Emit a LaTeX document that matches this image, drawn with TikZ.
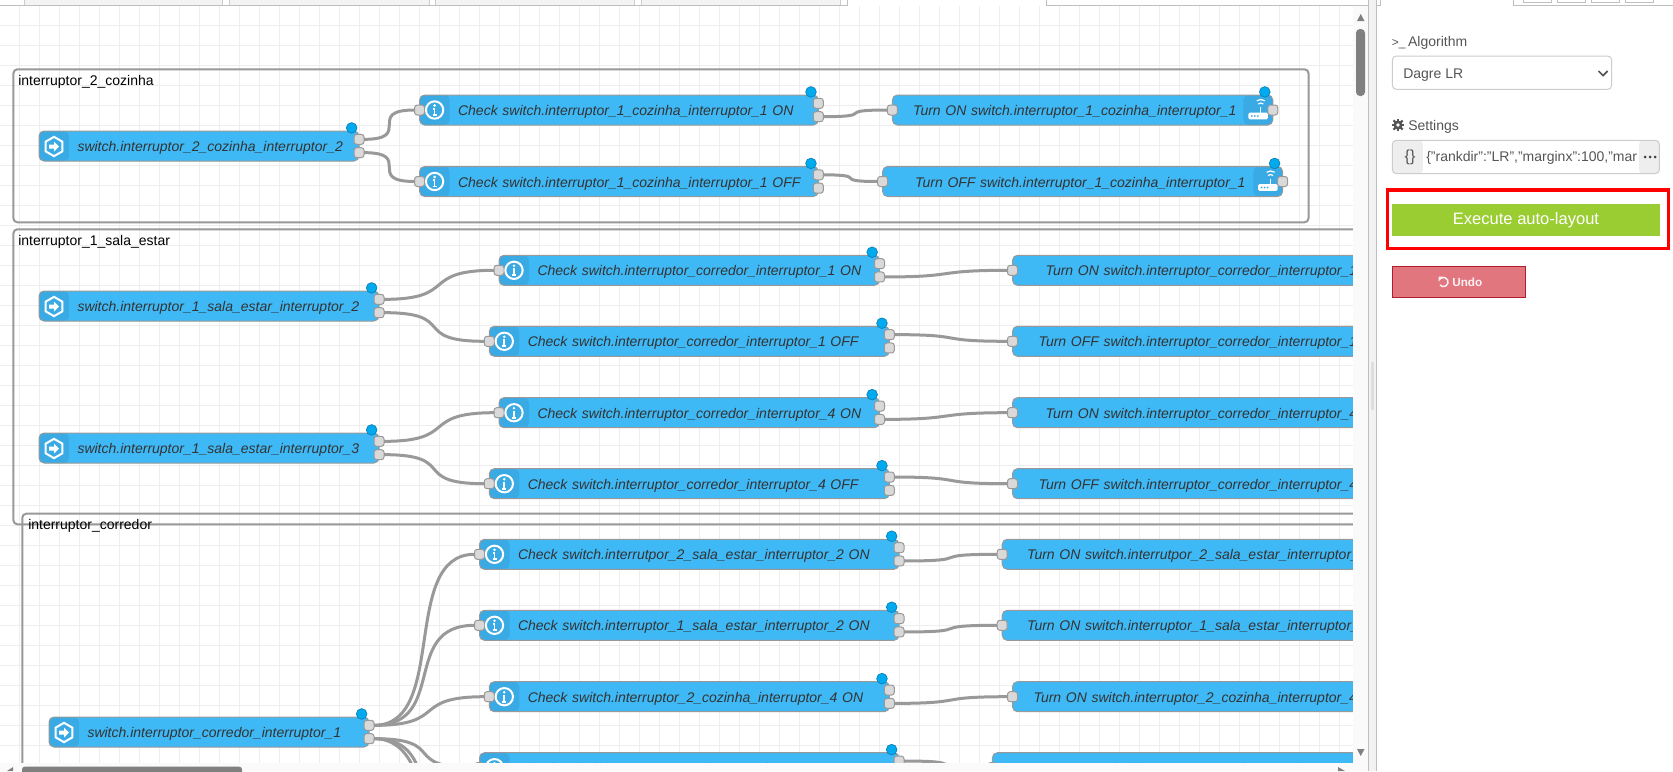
\documentclass[tikz,border=0pt]{standalone}
\usepackage{fontspec}
\setmainfont{Liberation Sans}
\usetikzlibrary{shapes.geometric}
\setlength{\unitlength}{0.75pt}
\definecolor{mynodeblue}{HTML}{3FB9F6}
\definecolor{mystripblue}{HTML}{3AAAE4}
\definecolor{mydotblue}{HTML}{00AAEE}
\definecolor{mydotline}{HTML}{0C7FB5}
\definecolor{mywire}{HTML}{999999}
\definecolor{myport}{HTML}{D9D9D9}
\definecolor{mygrid}{HTML}{EEEEEE}
\definecolor{mytext}{HTML}{333333}
\definecolor{mypanel}{HTML}{555555}
\definecolor{mygreen}{HTML}{9ACD32}
\definecolor{myundo}{HTML}{E1767F}
\definecolor{myundoline}{HTML}{B01E2E}
\tikzset{
	wide/.style={
			text width=#1\unitlength
		},
	padl/.style={
			execute at begin node={\hspace*{#1\unitlength}}
		},
	flownode/.style={
			rectangle,
			rounded corners=3.75pt,
			draw=mywire,
			line width=0.75pt,
			fill=mynodeblue,
			text=mytext,
			font=\fontsize{10.5}{12}\selectfont\itshape,
			minimum height=30\unitlength,
			text height=9pt,
			text depth=0.5pt,
			inner sep=0pt,
			outer sep=0pt,
			anchor=west,
			align=left
		},
	stripnode/.style={
			flownode,
			padl=38.5,
			path picture={
				\fill[mystripblue] (path picture bounding box.north west) rectangle ([xshift=22.5pt]path picture bounding box.south west);
			}
		},
	routernode/.style={
			flownode,
			path picture={
				\fill[mystripblue] ([xshift=-22pt]path picture bounding box.north east) rectangle (path picture bounding box.south east);
			}
		},
	portnode/.style={
			rectangle,
			rounded corners=2pt,
			draw=mywire,
			line width=0.75pt,
			fill=myport,
			minimum size=7.5pt,
			inner sep=0pt,
			outer sep=0pt
		},
	dotnode/.style={
			circle,
			draw=mydotline,
			line width=0.5pt,
			fill=mydotblue,
			minimum size=8pt,
			inner sep=0pt
		},
	hexnode/.style={
			regular polygon,
			regular polygon sides=6,
			regular polygon rotate=30,
			draw=white,
			line width=1.5pt,
			minimum size=14.5pt,
			inner sep=0pt
		},
	infonode/.style={
			circle,
			draw=white,
			line width=1.5pt,
			minimum size=13pt,
			inner sep=0pt
		},
	wire/.style={
			draw=mywire,
			line width=2.25pt
		},
	groupframe/.style={
			draw=mywire,
			line width=1.5pt,
			rounded corners=3pt
		},
	grouplabel/.style={
			anchor=west,
			inner sep=0pt,
			text=black,
			font=\fontsize{10.5}{12}\selectfont
		},
	paneltext/.style={
			anchor=west,
			inner sep=0pt,
			text=mypanel,
			font=\fontsize{10.5}{12}\selectfont
		}
}
\begin{document}
\begin{tikzpicture}[x=0.75pt, y=-0.75pt]
\useasboundingbox (0,0) rectangle (1673,771);
\fill[white] (0,0) rectangle (1673,771);

\begin{scope}
\clip (0,6) rectangle (1353,763);
\foreach \x in {19,39,...,1339} \draw[mygrid, line width=0.75pt] (\x,6) -- (\x,763);
\foreach \y in {25.5,45.5,...,745.5} \draw[mygrid, line width=0.75pt] (0,\y) -- (1353,\y);

\draw[groupframe] (13.4,69.3) rectangle (1308.5,222.3);
\draw[groupframe] (13.4,229.3) rectangle (1500,524.3);
\draw[groupframe] (22.3,513.7) rectangle (1500,900);
\node[grouplabel] (grp1) at (18,82) {interruptor\_2\_cozinha};
\node[grouplabel] (grp2) at (18,242.3) {interruptor\_1\_sala\_estar};
\node[grouplabel] (grp3) at (28,526) {interruptor\_corredor};

\node[stripnode, wide=320] (sw1) at (39,146) {switch.interruptor\_2\_cozinha\_interruptor\_2};
\node[stripnode, wide=340] (sw2) at (39,306) {switch.interruptor\_1\_sala\_estar\_interruptor\_2};
\node[stripnode, wide=340] (sw3) at (39,448) {switch.interruptor\_1\_sala\_estar\_interruptor\_3};
\node[stripnode, wide=320] (sw4) at (49,732) {switch.interruptor\_corredor\_interruptor\_1};

\node[stripnode, wide=398.7] (ck1) at (419.6,110) {Check switch.interruptor\_1\_cozinha\_interruptor\_1 ON};
\node[stripnode, wide=398.7] (ck2) at (419.6,181.5) {Check switch.interruptor\_1\_cozinha\_interruptor\_1 OFF};
\node[stripnode, wide=380.5] (ck3) at (499,270.3) {Check switch.interruptor\_corredor\_interruptor\_1 ON};
\node[stripnode, wide=400] (ck4) at (489.3,341.3) {Check switch.interruptor\_corredor\_interruptor\_1 OFF};
\node[stripnode, wide=380.5] (ck5) at (499,412.7) {Check switch.interruptor\_corredor\_interruptor\_4 ON};
\node[stripnode, wide=400] (ck6) at (489.3,483.7) {Check switch.interruptor\_corredor\_interruptor\_4 OFF};
\node[stripnode, wide=419.5] (ck7) at (479.5,554.3) {Check switch.interrutpor\_2\_sala\_estar\_interruptor\_2 ON};
\node[stripnode, wide=419.5] (ck8) at (479.5,625.3) {Check switch.interruptor\_1\_sala\_estar\_interruptor\_2 ON};
\node[stripnode, wide=400] (ck9) at (489.3,696.7) {Check switch.interruptor\_2\_cozinha\_interruptor\_4 ON};
\node[stripnode, wide=419.5] (ck10) at (479.5,767.7) {Check switch.interrutpor\_2\_sala\_estar\_interruptor\_2 OFF};

\node[routernode, wide=380.4, padl=20.6] (tn1) at (892.4,110) {Turn ON switch.interruptor\_1\_cozinha\_interruptor\_1};
\node[routernode, wide=400, padl=32.5] (tn2) at (882.6,181.5) {Turn OFF switch.interruptor\_1\_cozinha\_interruptor\_1};
\node[flownode, wide=440, padl=33] (tn3) at (1012.5,270.3) {Turn ON switch.interruptor\_corredor\_interruptor\_1};
\node[flownode, wide=440, padl=26] (tn4) at (1012.5,341.3) {Turn OFF switch.interruptor\_corredor\_interruptor\_1};
\node[flownode, wide=440, padl=33] (tn5) at (1012.5,412.7) {Turn ON switch.interruptor\_corredor\_interruptor\_4};
\node[flownode, wide=440, padl=26] (tn6) at (1012.5,483.7) {Turn OFF switch.interruptor\_corredor\_interruptor\_4};
\node[flownode, wide=440, padl=24.8] (tn7) at (1002.2,554.3) {Turn ON switch.interrutpor\_2\_sala\_estar\_interruptor\_2};
\node[flownode, wide=440, padl=24.8] (tn8) at (1002.2,625.3) {Turn ON switch.interruptor\_1\_sala\_estar\_interruptor\_2};
\node[flownode, wide=440, padl=21] (tn9) at (1012.5,696.7) {Turn ON switch.interruptor\_2\_cozinha\_interruptor\_4};
\node[flownode, wide=440, padl=39] (tn10) at (992.4,767.7) {Turn OFF switch.interrutpor\_2\_sala\_estar\_interruptor\_2};

\foreach \n in {sw1,sw2,sw3,sw4,ck1,ck2,ck3,ck4,ck5,ck6,ck7,ck8,ck9,ck10} {
	\node[portnode] (\n-a) at ([yshift=5pt]\n.east) {};
	\node[portnode] (\n-b) at ([yshift=-5pt]\n.east) {};
	\node[dotnode] (\n-dot) at ([xshift=-5.5pt, yshift=2.3pt]\n.north east) {};
}
\foreach \n in {ck1,ck2,ck3,ck4,ck5,ck6,ck7,ck8,ck9,ck10,tn1,tn2,tn3,tn4,tn5,tn6,tn7,tn8,tn9,tn10} {
	\node[portnode] (\n-in) at (\n.west) {};
}
\foreach \n in {sw1,sw2,sw3,sw4} {
	\begin{scope}[shift={(\n.west)}]
		\node[hexnode] (\n-hex) at (15,0.5) {};
		\fill[white] (10,-1.5) -- (15,-1.5) -- (15,-4.5) -- (20,0.5) -- (15,5.5) -- (15,2.5) -- (10,2.5) -- cycle;
	\end{scope}
}
\foreach \n in {ck1,ck2,ck3,ck4,ck5,ck6,ck7,ck8,ck9,ck10} {
	\begin{scope}[shift={(\n.west)}]
		\node[infonode] (\n-info) at (15,0) {};
		\fill[white] (15,-4.5) circle[radius=1.4];
		\draw[white, line width=1.3pt] (13.5,-1.2) -- (15,-1.2) -- (15,5) (13,5) -- (17,5);
	\end{scope}
}
\foreach \n in {tn1,tn2} {
	\node[portnode] (\n-out) at (\n.east) {};
	\node[dotnode] (\n-dot) at ([xshift=-6pt, yshift=2.3pt]\n.north east) {};
	\begin{scope}[shift={(\n.east)}]
		\fill[white, rounded corners=1pt] (-24.5,2.7) rectangle (-5,9.3);
		\draw[white, line width=1pt] (-12,-3) -- (-12,3);
		\draw[white, line width=0.9pt] (-12,-3.5) ++(225:3.5) arc[start angle=225, end angle=315, radius=3.5];
		\draw[white, line width=0.9pt] (-12,-3.5) ++(235:7) arc[start angle=235, end angle=305, radius=7];
		\foreach \d in {-21,-18,-15} \fill[mystripblue] (\d,6) circle[radius=1];
	\end{scope}
}

\coordinate (ck11-in) at (474.5,839);
\coordinate (ck12-in) at (484.3,910);
\draw[wire] (sw1-a.east) .. controls +(50,0) and +(-50,0) .. (ck1-in.west);
\draw[wire] (sw1-b.east) .. controls +(50,0) and +(-50,0) .. (ck2-in.west);
\draw[wire] (ck1-b.east) .. controls +(56,0) and +(-56,0) .. (tn1-in.west);
\draw[wire] (ck2-a.east) .. controls +(48,0) and +(-48,0) .. (tn2-in.west);
\draw[wire] (sw2-a.east) .. controls +(75,0) and +(-75,0) .. (ck3-in.west);
\draw[wire] (sw2-b.east) .. controls +(75,0) and +(-75,0) .. (ck4-in.west);
\draw[wire] (sw3-a.east) .. controls +(75,0) and +(-75,0) .. (ck5-in.west);
\draw[wire] (sw3-b.east) .. controls +(75,0) and +(-75,0) .. (ck6-in.west);
\draw[wire] (ck3-b.east) .. controls +(75,0) and +(-75,0) .. (tn3-in.west);
\draw[wire] (ck4-a.east) .. controls +(75,0) and +(-75,0) .. (tn4-in.west);
\draw[wire] (ck5-b.east) .. controls +(75,0) and +(-75,0) .. (tn5-in.west);
\draw[wire] (ck6-a.east) .. controls +(75,0) and +(-75,0) .. (tn6-in.west);
\draw[wire] (sw4-a.east) .. controls +(75,0) and +(-75,0) .. (ck7-in.west);
\draw[wire] (sw4-a.east) .. controls +(75,0) and +(-75,0) .. (ck8-in.west);
\draw[wire] (sw4-a.east) .. controls +(75,0) and +(-75,0) .. (ck9-in.west);
\draw[wire] (sw4-b.east) .. controls +(75,0) and +(-75,0) .. (ck10-in.west);
\draw[wire] (sw4-b.east) .. controls +(75,0) and +(-75,0) .. (ck11-in);
\draw[wire] (sw4-b.east) .. controls +(75,0) and +(-75,0) .. (ck12-in);
\draw[wire] (ck7-b.east) .. controls +(75,0) and +(-75,0) .. (tn7-in.west);
\draw[wire] (ck8-b.east) .. controls +(75,0) and +(-75,0) .. (tn8-in.west);
\draw[wire] (ck9-b.east) .. controls +(75,0) and +(-75,0) .. (tn9-in.west);
\draw[wire] (ck10-a.east) .. controls +(70,0) and +(-70,0) .. (tn10-in.west);
\end{scope}

\foreach \a/\b in {24/222,229/429,435/634,641/840} \draw[fill=mygrid!70, draw=black!20, line width=0.75pt] (\a,-2) rectangle (\b,5);
\draw[black!25, line width=0.75pt] (0,5.2) -- (847,5.2) -- (847,0);
\draw[black!25, line width=0.75pt] (1046,0) -- (1046,5.2) -- (1368,5.2);

\fill[black!2] (1353,6) rectangle (1368,771);
\fill[black!2] (0,763) rectangle (1368,771);
\fill[black!50, rounded corners=3pt] (1356,29) rectangle (1365,96);
\fill[black!50, rounded corners=2pt] (22,766.7) rectangle (242,775);
\fill[black!50] (1357,21) -- (1364.5,21) -- (1360.7,14) -- cycle;
\fill[black!50] (1357,749) -- (1364.5,749) -- (1360.7,756) -- cycle;
\fill[black!50] (7,771) -- (13,771) -- (13,767) -- cycle;
\fill[black!50] (1338,767) -- (1338,771) -- (1345,771) -- cycle;

\fill[black!5] (1368,0) rectangle (1376,771);
\draw[black!25, line width=0.75pt] (1368,0) -- (1368,771) (1376,0) -- (1376,771);
\fill[black!13] (1371,361.7) rectangle (1374,410);
\draw[black!25, line width=0.75pt] (1376,5.2) -- (1380,5.2) -- (1380,0);
\draw[black!25, line width=0.75pt] (1513,0) -- (1513,5.2) -- (1673,5.2);
\foreach \a in {1523,1557,1591,1625} \draw[black!25, line width=0.75pt] (\a,-2) rectangle (\a+28,2);

\node[paneltext] (algolabel) at (1391.5,43) {{\fontsize{9}{12}\selectfont >\_}\kern2pt Algorithm};
\node[rectangle, rounded corners=3pt, draw=black!20, line width=0.75pt, fill=white, minimum width=164.5pt, minimum height=25pt, inner sep=0pt] (algobox) at (1502,72.7) {};
\node[paneltext] (algotext) at (1403,75) {Dagre LR};
\draw[mypanel, line width=1.3pt] (1598.5,71) -- (1603,75.5) -- (1607.5,71);

\fill[mypanel] (1398,125) circle[radius=4.6];
\foreach \a in {0,45,...,315} \draw[mypanel, line width=1.6pt] (1398,125) -- +(\a:6.4);
\fill[white] (1398,125) circle[radius=1.9];
\node[paneltext] (setlabel) at (1408,127) {Settings};

\node[rectangle, rounded corners=3pt, draw=black!20, line width=0.75pt, fill=white, minimum width=200.25pt, minimum height=25pt, inner sep=0pt,
	path picture={
		\fill[mygrid] (path picture bounding box.north west) rectangle ([xshift=22.9pt]path picture bounding box.south west);
		\fill[mygrid] ([xshift=-15.2pt]path picture bounding box.north east) rectangle (path picture bounding box.south east);
	}] (setbox) at (1525.8,157) {};
\node[paneltext, anchor=center, font=\fontsize{12}{14}\selectfont] (setbrace) at (1410,157.7) {\{\}};
\node[paneltext] (settext) at (1426,157.7) {\{"rankdir":"LR","marginx":100,"mar};
\foreach \d in {1645,1650,1655} \fill[black!75] (\d,157) circle[radius=1.5];

\draw[red, line width=2.6pt] (1387.7,190) rectangle (1668.3,248.5);
\node[rectangle, fill=mygreen, text=white, minimum width=201pt, minimum height=24pt, inner sep=0pt, font=\fontsize{12.4}{14}\selectfont] (runbtn) at (1526,220) {\raisebox{-0.7pt}{Execute auto-layout}};

\node[rectangle, draw=myundoline, line width=0.75pt, fill=myundo, minimum width=100pt, minimum height=23.7pt, inner sep=0pt] (undobtn) at (1458.8,282) {};
\node[anchor=west, inner sep=0pt, text=white!90!myundo, font=\fontsize{8.8}{10}\selectfont\bfseries] (undotext) at (1452,282) {Undo};
\draw[white!90!myundo, line width=1.1pt] (1443.5,282) ++(240:4.6) arc[start angle=240, end angle=500, radius=4.6];
\fill[white!90!myundo] (1438.5,276.5) -- (1438.5,281.5) -- (1443.5,276.5) -- cycle;
\end{tikzpicture}
\end{document}
